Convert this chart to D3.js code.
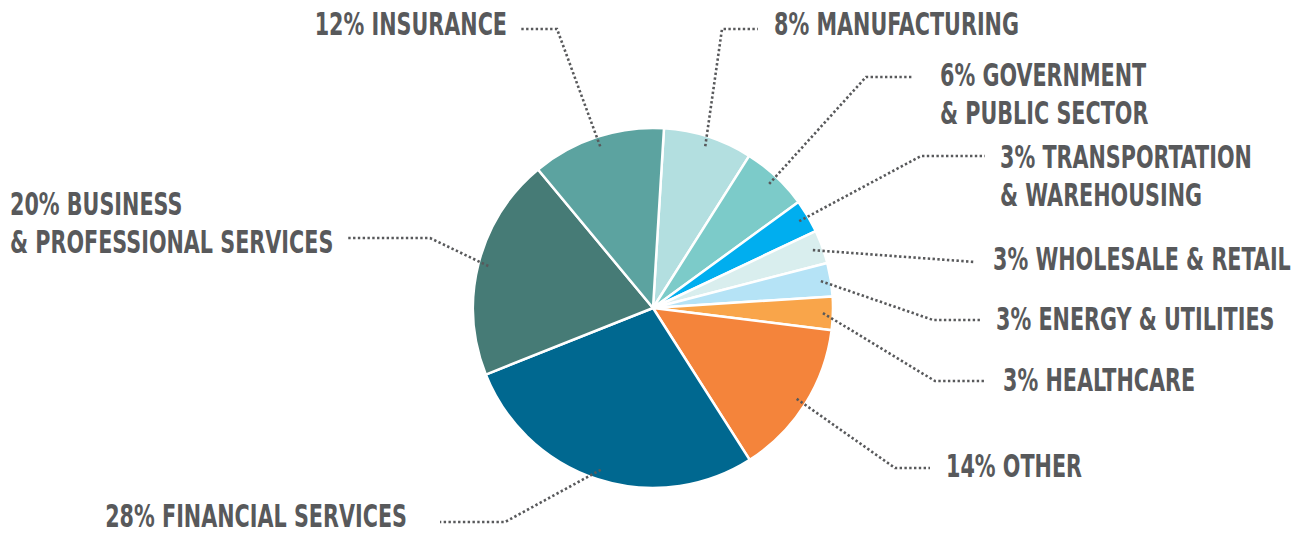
<!DOCTYPE html>
<html>
<head>
<meta charset="utf-8">
<script src="https://cdn.jsdelivr.net/npm/d3@7"></script>
<style>
  html, body { margin: 0; padding: 0; background: #fff; }
  svg text { font-family: "DejaVu Sans Condensed", "DejaVu Sans", sans-serif; font-weight: bold; }
</style>
</head>
<body>
<div id="chart"></div>
<script>
// slices, clockwise from 12 o'clock
var categories = ["MANUFACTURING", "GOVERNMENT\n& PUBLIC SECTOR", "TRANSPORTATION\n& WAREHOUSING",
    "WHOLESALE & RETAIL", "ENERGY & UTILITIES", "HEALTHCARE", "OTHER",
    "FINANCIAL SERVICES", "BUSINESS\n& PROFESSIONAL SERVICES", "INSURANCE"];
var values = [8, 6, 3, 3, 3, 3, 14, 28, 20, 12];
var colors = ["#b3dfe0", "#7ccbc9", "#00aeef", "#d9eeee", "#b5e3f6", "#f9a54a", "#f4843b",
    "#006890", "#467b76", "#5ca3a0"];

// label layout: text x / first baseline, anchor, leader bend and end (y of horizontal run)
var labelPos = [
    { x: 774, y: 35, anchor: "start", lineY: 29, bendX: 722, endX: 758 },
    { x: 940, y: 86, anchor: "start", lineY: 77, bendX: 866, endX: 913 },
    { x: 1000, y: 168, anchor: "start", lineY: 156, bendX: 921, endX: 985 },
    { x: 993, y: 270, anchor: "start", lineY: 262, bendX: 975, endX: 975 },
    { x: 996, y: 330, anchor: "start", lineY: 320, bendX: 933, endX: 980 },
    { x: 1003, y: 391, anchor: "start", lineY: 381, bendX: 935, endX: 985 },
    { x: 946, y: 477, anchor: "start", lineY: 468, bendX: 895, endX: 930 },
    { x: 407, y: 527, anchor: "end", lineY: 522, bendX: 505, endX: 440 },
    { x: 10, y: 215, anchor: "start", lineY: 238, bendX: 430, endX: 346 },
    { x: 507, y: 35, anchor: "end", lineY: 29, bendX: 557, endX: 521 }
];

var width = 1291, height = 536;
var cx = 653, cy = 308, radius = 180;
var textColor = "#58595b";
var squeeze = 0.72, fontSize = 32, lineGap = 38;

var svg = d3.select("#chart").append("svg")
    .attr("width", width)
    .attr("height", height);

var startA = 3.5 * Math.PI / 180;
var pie = d3.pie().sort(null).value(function (d) { return d; })
    .startAngle(startA).endAngle(startA + 2 * Math.PI);
var arcs = pie(values);

var arc = d3.arc().innerRadius(0).outerRadius(radius);
var pointArc = d3.arc().innerRadius(170).outerRadius(170);

var g = svg.append("g").attr("transform", "translate(" + cx + "," + cy + ")");

g.selectAll("path.slice")
    .data(arcs)
    .enter().append("path")
    .attr("class", "slice")
    .attr("d", arc)
    .attr("fill", function (d, i) { return colors[i]; })
    .attr("stroke", "#fff")
    .attr("stroke-width", 2.5)
    .attr("stroke-linejoin", "round");

// leader lines
var lines = svg.append("g");
arcs.forEach(function (d, i) {
    var c = pointArc.centroid(d);
    var p = labelPos[i];
    var pts = [[cx + c[0], cy + c[1]], [p.bendX, p.lineY], [p.endX, p.lineY]];
    lines.append("path")
        .attr("d", d3.line()(pts))
        .attr("fill", "none")
        .attr("stroke", textColor)
        .attr("stroke-width", 2.6)
        .attr("stroke-dasharray", "2.4 2.4");
});

// labels
var labels = svg.append("g");
arcs.forEach(function (d, i) {
    var p = labelPos[i];
    var parts = (values[i] + "% " + categories[i]).split("\n");
    var t = labels.append("text")
        .attr("transform", "translate(" + p.x + "," + p.y + ") scale(" + squeeze + ",1)")
        .attr("text-anchor", p.anchor)
        .attr("fill", textColor)
        .attr("font-size", fontSize);
    parts.forEach(function (s, k) {
        t.append("tspan").attr("x", 0).attr("y", k * lineGap).text(s);
    });
});
</script>
</body>
</html>
